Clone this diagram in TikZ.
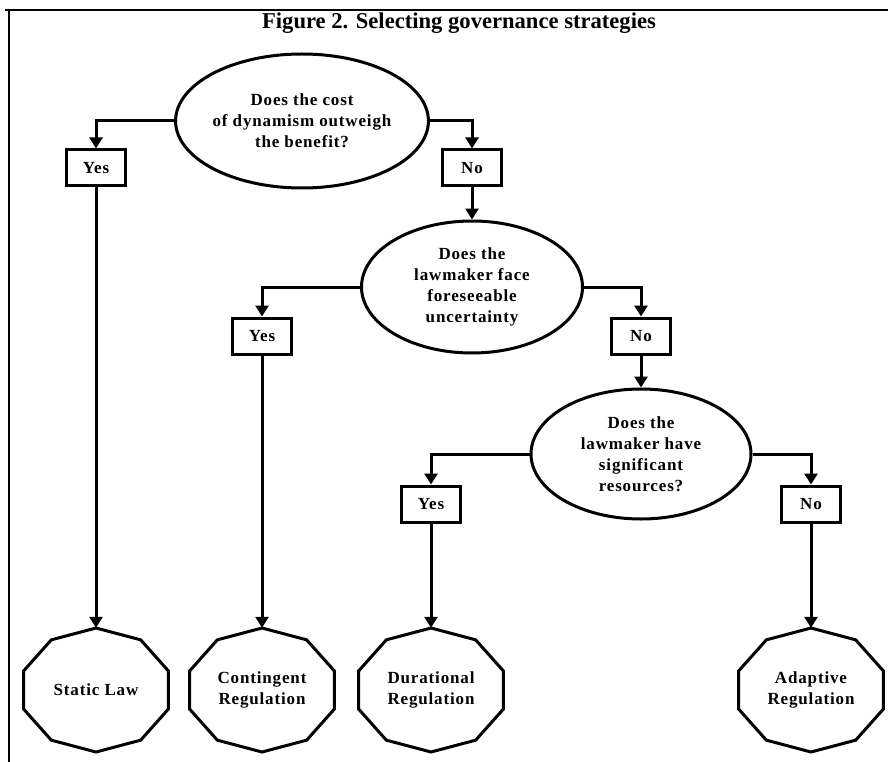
\documentclass[tikz,border=0pt]{standalone}
\usepackage{fontspec}
\setmainfont{Liberation Serif}
\newfontfamily\trackedfont[LetterSpace=5]{Liberation Serif}
\usetikzlibrary{shapes.geometric, arrows.meta, calc}

\begin{document}
\begin{tikzpicture}[x=1pt, y=-1pt,
        line/.style={line width=3pt},
        arr/.style={line, -{Triangle[length=11pt, width=13pt]}},
        question/.style={draw, line, ellipse, inner sep=0pt, align=center,
            font=\trackedfont\bfseries\fontsize{17}{21}\selectfont},
        answer/.style={draw, line, rectangle, minimum width=59pt, minimum height=36pt, inner sep=0pt,
            font=\trackedfont\bfseries\fontsize{17}{21}\selectfont},
        outcome/.style={rectangle, minimum width=146pt, minimum height=124pt, inner sep=0pt, align=center,
            font=\trackedfont\bfseries\fontsize{17}{21}\selectfont}]
    \useasboundingbox (0, 0) rectangle (888, 762);
    \draw [line width=2pt] (5, 10) -- (888, 10);
    \draw [line width=2pt] (9, 10) -- (9, 762);
    \node [font=\bfseries\fontsize{22.6}{26}\selectfont] (title) at (459, 23) {Figure 2. Selecting governance strategies};

    \node [question, minimum width=220pt, minimum height=134pt] (q1) at (302, 121) {Does the cost\\of dynamism outweigh\\the benefit?};
    \node [answer] (yes1) at (96, 168) {Yes};
    \node [answer] (no1) at (472, 168) {No};
    \node [question, minimum width=221pt, minimum height=132pt] (q2) at (472, 287) {Does the\\lawmaker face\\foreseeable\\uncertainty};
    \node [answer] (yes2) at (262, 336) {Yes};
    \node [answer] (no2) at (641, 336) {No};
    \node [question, minimum width=220pt, minimum height=130pt] (q3) at (641, 454) {Does the\\lawmaker have\\significant\\resources?};
    \node [answer] (yes3) at (431, 504) {Yes};
    \node [answer] (no3) at (811, 504) {No};

    \node [outcome] (static) at (96, 690) {Static Law};
    \node [outcome] (contingent) at (262, 690) {Contingent\\Regulation};
    \node [outcome] (durational) at (431, 690) {Durational\\Regulation};
    \node [outcome] (adaptive) at (811, 690) {Adaptive\\Regulation};
    \foreach \n in {static, contingent, durational, adaptive}
        \draw [line] ($(\n)+(0, 62)$) \foreach \a in {126, 162, ..., 414} { -- ($(\n)+({76*cos(\a)}, {62*sin(\a)})$) } -- cycle;

    \draw [arr] (q1.west) -| (yes1.north);
    \draw [arr] (q1.east) -| (no1.north);
    \draw [arr] (yes1.south) -- (static.north);
    \draw [arr] (no1.south) -- (q2.north);
    \draw [arr] (q2.west) -| (yes2.north);
    \draw [arr] (q2.east) -| (no2.north);
    \draw [arr] (yes2.south) -- (contingent.north);
    \draw [arr] (no2.south) -- (q3.north);
    \draw [arr] (q3.west) -| (yes3.north);
    \draw [arr] (q3.east) -| (no3.north);
    \draw [arr] (yes3.south) -- (durational.north);
    \draw [arr] (no3.south) -- (adaptive.north);
\end{tikzpicture}
\end{document}
